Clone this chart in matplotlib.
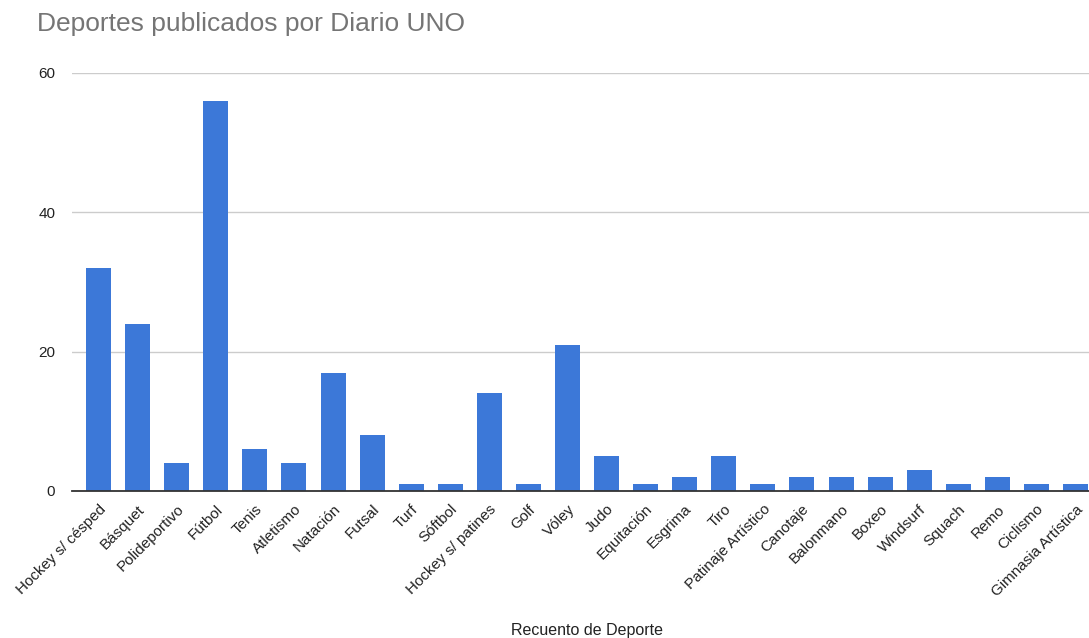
import matplotlib.pyplot as plt

plt.rcParams['font.family'] = ['Liberation Sans', 'DejaVu Sans']

deportes = ['Hockey s/ césped', 'Básquet', 'Polideportivo', 'Fútbol', 'Tenis',
            'Atletismo', 'Natación', 'Futsal', 'Turf', 'Sóftbol',
            'Hockey s/ patines', 'Golf', 'Vóley', 'Judo', 'Equitación',
            'Esgrima', 'Tiro', 'Patinaje Artístico', 'Canotaje', 'Balonmano',
            'Boxeo', 'Windsurf', 'Squach', 'Remo', 'Ciclismo', 'Gimnasia Artística']
recuento = [32, 24, 4, 56, 6, 4, 17, 8, 1, 1, 14, 1, 21, 5, 1, 2, 5, 1, 2, 2,
            2, 3, 1, 2, 1, 1]
y_ticks = [0, 20, 40, 60]

fig = plt.figure(figsize=(10.89, 6.38), dpi=100)
ax = fig.add_axes([72 / 1089, 147 / 638, 1017 / 1089, 418 / 638])

x = range(len(deportes))
ax.bar(x, recuento, width=0.64, color='#3c78d8', zorder=3)

ax.set_xlim(-0.68, len(deportes) - 1 + 0.345)
ax.set_ylim(0, 60)
ax.set_yticks(y_ticks)
ax.yaxis.grid(True, color='#cccccc', linewidth=1, zorder=0)
ax.tick_params(axis='y', length=0, pad=12, labelsize=11, labelcolor='#222222')
ax.tick_params(axis='x', length=0, pad=8)

ax.set_xticks(list(x))
ax.set_xticklabels(deportes, rotation=45, ha='right', va='top',
                   rotation_mode='anchor', fontsize=11, color='#222222')

for s in ['top', 'right', 'left']:
    ax.spines[s].set_visible(False)
ax.spines['bottom'].set_color('#333333')
ax.spines['bottom'].set_linewidth(1.3)
ax.spines['bottom'].set_zorder(4)

fig.text(37 / 1089, 1 - 24 / 638, 'Deportes publicados por Diario UNO',
         fontsize=19, color='#757575', ha='left', va='center')
fig.text(587 / 1089, 1 - 631 / 638, 'Recuento de Deporte', fontsize=11.5,
         color='#222222', ha='center', va='center')

fig.savefig('out.png', dpi=100)
